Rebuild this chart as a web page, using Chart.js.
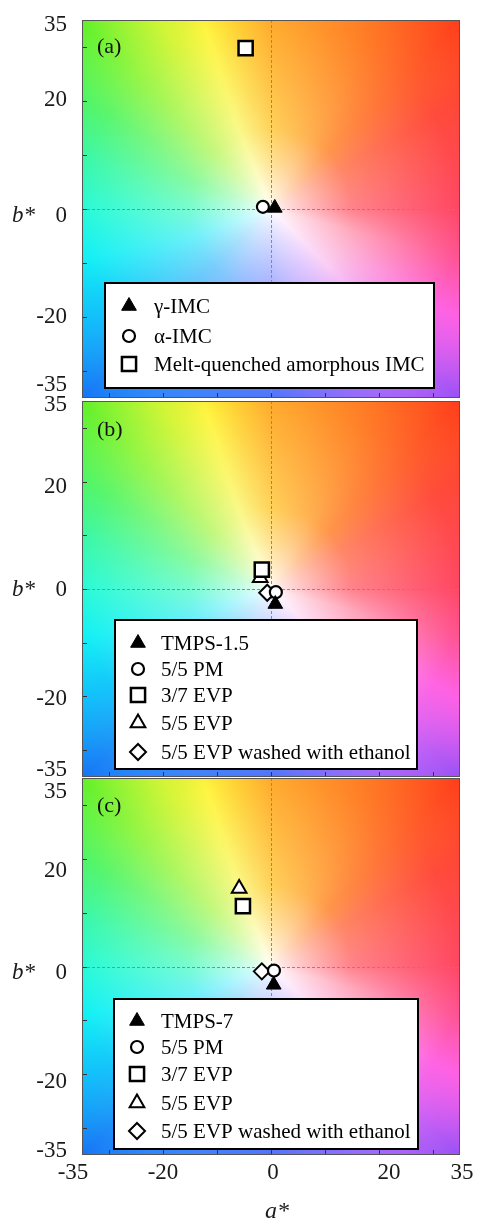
<!DOCTYPE html>
<html lang="en">
<head>
<meta charset="utf-8">
<title>a* b* colour coordinates</title>
<script src="https://cdn.jsdelivr.net/npm/chart.js@4.4.1/dist/chart.umd.min.js"></script>
<style>
html,body{margin:0;padding:0;background:#fff;}
#wrap{position:relative;width:477px;height:1219px;overflow:hidden;background:#fff;}
#wrap canvas{position:absolute;left:0;}
</style>
</head>
<body>
<div id="wrap">
<canvas id="panelA" width="477" height="399" style="top:0px"></canvas>
<canvas id="panelB" width="477" height="389" style="top:389px"></canvas>
<canvas id="panelC" width="477" height="452" style="top:767px"></canvas>
</div>
<script>
// ================= DATA =================
const axisMin = -35, axisMax = 35;
const minorTicks = [-30, -20, -10, 0, 10, 20, 30];
const yTickValues = [35, 20, 0, -20, -35];
const yTickLabels = ['35', '20', '0', '-20', '-35'];
const xTickValues = [-35, -20, 0, 20, 35];
const xTickLabels = ['-35', '-20', '0', '20', '35'];

// panel (a)
const seriesA = ['γ-IMC', 'α-IMC', 'Melt-quenched amorphous IMC'];
const aStarA = [0.7, -1.5, -4.7];
const bStarA = [0.2, 0.4, 29.8];

// panel (b)
const seriesB = ['TMPS-1.5', '5/5 PM', '3/7 EVP', '5/5 EVP', '5/5 EVP washed with ethanol'];
const aStarB = [0.8, 0.9, -1.7, -2.0, -0.7];
const bStarB = [-2.8, -0.6, 3.6, 2.1, -0.7];

// panel (c)
const seriesC = ['TMPS-7', '5/5 PM', '3/7 EVP', '5/5 EVP', '5/5 EVP washed with ethanol'];
const aStarC = [0.5, 0.55, -5.2, -5.9, -1.7];
const bStarC = [-3.4, -0.75, 11.2, 14.5, -0.9];

// ================= STYLE =================
const FONT = '"Liberation Serif", "Times New Roman", serif';
const markerStyles = {
  filledTri: {pointStyle: 'triangle', radius: 8.5, bg: '#000', border: '#000', bw: 1},
  openTri:   {pointStyle: 'triangle', radius: 8.5, bg: '#fff', border: '#000', bw: 2},
  circle:    {pointStyle: 'circle',   radius: 6,   bg: '#fff', border: '#000', bw: 2.2},
  square:    {pointStyle: 'rect',     radius: 10,  bg: '#fff', border: '#000', bw: 2.5},
  diamond:   {pointStyle: 'rectRot',  radius: 8,   bg: '#fff', border: '#000', bw: 2}
};

// colour rings for the a*b* background (angle in degrees -> rgb)
const ringM = [[0,[255,130,140]],[30,[255,135,100]],[45,[255,150,75]],[60,[255,175,80]],[90,[255,210,90]],
  [112,[250,248,140]],[135,[195,248,125]],[160,[140,250,160]],[180,[120,252,210]],[200,[110,240,250]],
  [225,[120,205,252]],[250,[150,185,255]],[270,[165,175,255]],[300,[220,190,255]],[315,[250,205,245]],
  [345,[255,170,190]],[360,[255,130,140]]];
const ringO = [[0,[255,70,100]],[30,[255,75,60]],[45,[255,100,45]],[60,[255,125,40]],[90,[255,170,45]],
  [100,[255,205,50]],[110,[255,245,65]],[120,[215,245,60]],[135,[150,245,70]],[150,[90,245,110]],
  [165,[60,248,170]],[180,[40,250,215]],[195,[20,240,245]],[210,[20,200,250]],[225,[40,165,250]],
  [240,[60,140,250]],[270,[80,115,250]],[300,[170,110,250]],[315,[225,105,245]],[330,[255,100,225]],
  [345,[255,85,150]],[360,[255,70,100]]];
const ringE = [[0,[255,60,90]],[30,[255,65,40]],[45,[255,60,25]],[60,[255,95,25]],[90,[255,160,30]],
  [120,[200,245,40]],[135,[95,240,40]],[150,[60,245,90]],[180,[20,250,210]],[210,[10,180,250]],
  [225,[20,115,245]],[240,[40,120,250]],[270,[80,110,250]],[300,[140,95,250]],[315,[150,80,245]],
  [330,[255,90,235]],[345,[255,75,140]],[360,[255,60,90]]];
const WHITE = [255,255,255];

function ringColor(ring, th) {
  for (let i = 0; i < ring.length - 1; i++) {
    const t0 = ring[i][0], t1 = ring[i+1][0];
    if (th >= t0 && th <= t1) {
      const f = (th - t0) / (t1 - t0), c0 = ring[i][1], c1 = ring[i+1][1];
      return [c0[0]+(c1[0]-c0[0])*f, c0[1]+(c1[1]-c0[1])*f, c0[2]+(c1[2]-c0[2])*f];
    }
  }
  return ring[0][1];
}
function mix(c0, c1, f) {
  return [c0[0]+(c1[0]-c0[0])*f, c0[1]+(c1[1]-c0[1])*f, c0[2]+(c1[2]-c0[2])*f];
}
function bgColor(a, b) {
  const r = Math.hypot(a, b);
  let th = Math.atan2(b, a) * 180 / Math.PI; if (th < 0) th += 360;
  if (r <= 15) return mix(WHITE, ringColor(ringM, th), Math.pow(r / 15, 0.8));
  if (r <= 35) return mix(ringColor(ringM, th), ringColor(ringO, th), (r - 15) / 20);
  return mix(ringColor(ringO, th), ringColor(ringE, th), Math.min(1, (r - 35) / 15));
}

// per-panel layout (page pixel coordinates)
const panels = [
  {id: 'panelA', top: 0, padTop: 20, padBottom: 1, tag: '(a)', tagY: 47,
   names: seriesA, A: aStarA, B: bStarA, marks: ['filledTri','circle','square'],
   legend: {x: 105, y: 283, w: 329, h: 105, markX: 129, textX: 154, rows: [306, 336, 364]},
   yLabelDy: [5, -1, 7, 0, -13], xLabels: false},
  {id: 'panelB', top: 389, padTop: 12, padBottom: 1, tag: '(b)', tagY: 430,
   names: seriesB, A: aStarB, B: bStarB, marks: ['filledTri','circle','square','openTri','diamond'],
   legend: {x: 115, y: 620, w: 302, h: 149, markX: 138, textX: 161, rows: [643, 669, 695, 723, 752]},
   yLabelDy: [4, 5, 1, 3, -7], xLabels: false},
  {id: 'panelC', top: 767, padTop: 11, padBottom: 64, tag: '(c)', tagY: 806,
   names: seriesC, A: aStarC, B: bStarC, marks: ['filledTri','circle','square','openTri','diamond'],
   legend: {x: 114, y: 999, w: 304, h: 150, markX: 137, textX: 161, rows: [1021, 1047, 1074, 1103, 1131]},
   yLabelDy: [14, 12, 6, 8, -4], xLabels: true}
];
const xLabelDx = [-9, 0, 2, 10, 2];
const xLabelY = 1173;

function drawMarker(ctx, key, x, y) {
  const st = markerStyles[key];
  ctx.save();
  ctx.fillStyle = st.bg; ctx.strokeStyle = st.border; ctx.lineWidth = st.bw;
  if (Chart.helpers && Chart.helpers.drawPoint) {
    Chart.helpers.drawPoint(ctx, {pointStyle: st.pointStyle, radius: st.radius, borderWidth: st.bw, rotation: 0}, x, y);
  }
  ctx.restore();
}

const decor = {
  id: 'decor',
  beforeDraw(chart) {
    const P = chart.$panel; if (!P) return;
    const {ctx, chartArea: ca, scales: {x, y}} = chart;
    const x0 = Math.round(ca.left), y0 = Math.round(ca.top);
    const w = Math.round(ca.right) - x0, h = Math.round(ca.bottom) - y0;
    const img = ctx.createImageData(w, h);
    for (let j = 0; j < h; j++) {
      const bv = y.getValueForPixel(y0 + j + 0.5);
      for (let i = 0; i < w; i++) {
        const av = x.getValueForPixel(x0 + i + 0.5);
        const c = bgColor(av, bv), k = (j * w + i) * 4;
        img.data[k] = c[0]; img.data[k+1] = c[1]; img.data[k+2] = c[2]; img.data[k+3] = 255;
      }
    }
    ctx.putImageData(img, x0, y0);
  },
  beforeDatasetsDraw(chart) {
    const P = chart.$panel; if (!P) return;
    const {ctx, chartArea: ca, scales: {x, y}} = chart;
    ctx.save();
    ctx.strokeStyle = '#8a8a8a'; ctx.lineWidth = 1; ctx.setLineDash([3, 2]);
    const zx = Math.round(x.getPixelForValue(0)) + 0.5, zy = Math.round(y.getPixelForValue(0)) + 0.5;
    ctx.beginPath(); ctx.moveTo(zx, ca.top); ctx.lineTo(zx, ca.bottom); ctx.stroke();
    ctx.beginPath(); ctx.moveTo(ca.left, zy); ctx.lineTo(ca.right, zy); ctx.stroke();
    ctx.setLineDash([]);
    ctx.strokeStyle = '#333'; ctx.lineWidth = 1;
    minorTicks.forEach(v => {
      const py = Math.round(y.getPixelForValue(v)) + 0.5;
      ctx.beginPath(); ctx.moveTo(ca.left, py); ctx.lineTo(ca.left + 5, py); ctx.stroke();
      const px = Math.round(x.getPixelForValue(v)) + 0.5;
      ctx.beginPath(); ctx.moveTo(px, ca.bottom); ctx.lineTo(px, ca.bottom - 5); ctx.stroke();
    });
    ctx.strokeStyle = '#555';
    ctx.strokeRect(Math.round(ca.left) + 0.5, Math.round(ca.top) + 0.5, Math.round(ca.width) - 1, Math.round(ca.height) - 1);
    ctx.restore();
  },
  afterDatasetsDraw(chart) {
    const P = chart.$panel; if (!P) return;
    const {ctx, scales: {x, y}} = chart;
    const T = P.top;
    ctx.save();
    const L = P.legend;
    ctx.fillStyle = '#fff'; ctx.fillRect(L.x, L.y - T, L.w, L.h);
    ctx.strokeStyle = '#000'; ctx.lineWidth = 2; ctx.strokeRect(L.x, L.y - T, L.w, L.h);
    ctx.textBaseline = 'middle'; ctx.textAlign = 'left';
    P.names.forEach((n, i) => {
      const ry = L.rows[i] - T;
      drawMarker(ctx, P.marks[i], L.markX, ry);
      ctx.fillStyle = '#000'; ctx.font = '21px ' + FONT;
      ctx.fillText(n, L.textX, ry + 1);
    });
    ctx.fillStyle = '#111'; ctx.font = '22px ' + FONT;
    ctx.fillText(P.tag, 97, P.tagY - T);
    ctx.fillStyle = '#1a1a1a'; ctx.font = '23px ' + FONT; ctx.textAlign = 'right';
    yTickValues.forEach((v, i) => {
      ctx.fillText(yTickLabels[i], 67, y.getPixelForValue(v) + P.yLabelDy[i]);
    });
    ctx.textAlign = 'left'; ctx.font = 'italic 23px ' + FONT;
    ctx.fillText('b*', 12, y.getPixelForValue(0) + P.yLabelDy[2]);
    if (P.xLabels) {
      ctx.textAlign = 'center'; ctx.font = '23px ' + FONT;
      xTickValues.forEach((v, i) => {
        ctx.fillText(xTickLabels[i], x.getPixelForValue(v) + xLabelDx[i], xLabelY - T);
      });
      ctx.font = 'italic 24px ' + FONT;
      ctx.fillText('a*', 277, 1212 - T);
    }
    ctx.restore();
  }
};

panels.forEach(P => {
  const datasets = P.names.map((n, i) => {
    const st = markerStyles[P.marks[i]];
    return {
      label: n,
      data: [{x: P.A[i], y: P.B[i]}],
      pointStyle: st.pointStyle,
      pointRadius: st.radius,
      pointHoverRadius: st.radius,
      pointBackgroundColor: st.bg,
      pointBorderColor: st.border,
      pointBorderWidth: st.bw,
      showLine: false
    };
  });
  new Chart(document.getElementById(P.id), {
    type: 'scatter',
    data: {datasets},
    options: {
      responsive: false,
      animation: false,
      devicePixelRatio: 1,
      events: [],
      layout: {autoPadding: false, padding: {left: 82, right: 17, top: P.padTop, bottom: P.padBottom}},
      scales: {
        x: {type: 'linear', min: axisMin, max: axisMax, display: false},
        y: {type: 'linear', min: axisMin, max: axisMax, display: false}
      },
      plugins: {legend: {display: false}, tooltip: {enabled: false}}
    },
    plugins: [{id: 'panelRef', beforeInit(c) { c.$panel = P; }}, decor]
  });
});
</script>
</body>
</html>
